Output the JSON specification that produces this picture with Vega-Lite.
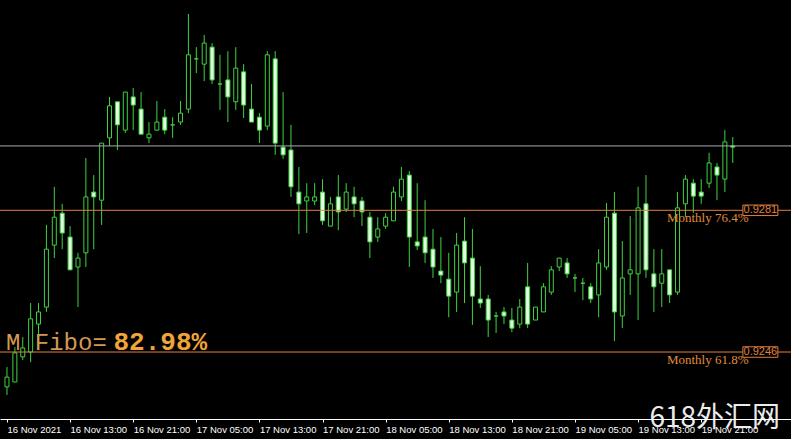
{
  "$schema": "https://vega.github.io/schema/vega-lite/v6.json",
  "width": 791,
  "height": 419,
  "autosize": "none",
  "padding": {"left": 0, "top": 0, "right": 0, "bottom": 20},
  "background": "black",
  "config": {"view": {"stroke": null}, "axisY": {"disable": true}},
  "datasets": {
    "candles": [
      {"t":"2021-11-16T05:00","o":0.92374,"h":0.92423,"l":0.92354,"c":0.92398},
      {"t":"2021-11-16T06:00","o":0.92386,"h":0.92472,"l":0.92386,"c":0.92458},
      {"t":"2021-11-16T07:00","o":0.92448,"h":0.92497,"l":0.92440,"c":0.92470},
      {"t":"2021-11-16T08:00","o":0.92460,"h":0.92581,"l":0.92435,"c":0.92542},
      {"t":"2021-11-16T09:00","o":0.92529,"h":0.92581,"l":0.92490,"c":0.92559},
      {"t":"2021-11-16T10:00","o":0.92571,"h":0.92774,"l":0.92559,"c":0.92714},
      {"t":"2021-11-16T11:00","o":0.92724,"h":0.92868,"l":0.92692,"c":0.92793},
      {"t":"2021-11-16T12:00","o":0.92803,"h":0.92826,"l":0.92714,"c":0.92754},
      {"t":"2021-11-16T13:00","o":0.92744,"h":0.92771,"l":0.92663,"c":0.92663},
      {"t":"2021-11-16T14:00","o":0.92670,"h":0.92705,"l":0.92571,"c":0.92692},
      {"t":"2021-11-16T15:00","o":0.92705,"h":0.92939,"l":0.92670,"c":0.92843},
      {"t":"2021-11-16T16:00","o":0.92855,"h":0.92897,"l":0.92714,"c":0.92843},
      {"t":"2021-11-16T17:00","o":0.92835,"h":0.92976,"l":0.92774,"c":0.92976},
      {"t":"2021-11-16T18:00","o":0.92989,"h":0.93090,"l":0.92969,"c":0.93068},
      {"t":"2021-11-16T19:00","o":0.93078,"h":0.93078,"l":0.92959,"c":0.93021},
      {"t":"2021-11-16T20:00","o":0.93008,"h":0.93102,"l":0.93001,"c":0.93102},
      {"t":"2021-11-16T21:00","o":0.93090,"h":0.93112,"l":0.93008,"c":0.93070},
      {"t":"2021-11-16T22:00","o":0.93060,"h":0.93102,"l":0.92998,"c":0.92998},
      {"t":"2021-11-16T23:00","o":0.92989,"h":0.93028,"l":0.92976,"c":0.92998},
      {"t":"2021-11-17T00:00","o":0.93008,"h":0.93080,"l":0.93008,"c":0.93028},
      {"t":"2021-11-17T01:00","o":0.93040,"h":0.93060,"l":0.92998,"c":0.93008},
      {"t":"2021-11-17T02:00","o":0.93021,"h":0.93040,"l":0.92989,"c":0.93021},
      {"t":"2021-11-17T03:00","o":0.93028,"h":0.93080,"l":0.93021,"c":0.93050},
      {"t":"2021-11-17T04:00","o":0.93060,"h":0.93295,"l":0.93050,"c":0.93194},
      {"t":"2021-11-17T05:00","o":0.93184,"h":0.93213,"l":0.93149,"c":0.93184},
      {"t":"2021-11-17T06:00","o":0.93171,"h":0.93243,"l":0.93129,"c":0.93223},
      {"t":"2021-11-17T07:00","o":0.93213,"h":0.93223,"l":0.93122,"c":0.93132},
      {"t":"2021-11-17T08:00","o":0.93122,"h":0.93194,"l":0.93058,"c":0.93122},
      {"t":"2021-11-17T09:00","o":0.93132,"h":0.93203,"l":0.93028,"c":0.93090},
      {"t":"2021-11-17T10:00","o":0.93078,"h":0.93213,"l":0.93058,"c":0.93161},
      {"t":"2021-11-17T11:00","o":0.93152,"h":0.93171,"l":0.93038,"c":0.93070},
      {"t":"2021-11-17T12:00","o":0.93060,"h":0.93122,"l":0.93028,"c":0.93028},
      {"t":"2021-11-17T13:00","o":0.93040,"h":0.93050,"l":0.92976,"c":0.93008},
      {"t":"2021-11-17T14:00","o":0.93018,"h":0.93203,"l":0.93008,"c":0.93194},
      {"t":"2021-11-17T15:00","o":0.93184,"h":0.93203,"l":0.92947,"c":0.92976},
      {"t":"2021-11-17T16:00","o":0.92966,"h":0.93102,"l":0.92937,"c":0.92947},
      {"t":"2021-11-17T17:00","o":0.92959,"h":0.93021,"l":0.92843,"c":0.92868},
      {"t":"2021-11-17T18:00","o":0.92855,"h":0.92917,"l":0.92751,"c":0.92826},
      {"t":"2021-11-17T19:00","o":0.92833,"h":0.92877,"l":0.92754,"c":0.92843},
      {"t":"2021-11-17T20:00","o":0.92833,"h":0.92877,"l":0.92823,"c":0.92843},
      {"t":"2021-11-17T21:00","o":0.92855,"h":0.92887,"l":0.92774,"c":0.92784},
      {"t":"2021-11-17T22:00","o":0.92771,"h":0.92843,"l":0.92771,"c":0.92826},
      {"t":"2021-11-17T23:00","o":0.92843,"h":0.92897,"l":0.92761,"c":0.92806},
      {"t":"2021-11-18T00:00","o":0.92813,"h":0.92877,"l":0.92806,"c":0.92855},
      {"t":"2021-11-18T01:00","o":0.92843,"h":0.92868,"l":0.92793,"c":0.92826},
      {"t":"2021-11-18T02:00","o":0.92833,"h":0.92843,"l":0.92771,"c":0.92806},
      {"t":"2021-11-18T03:00","o":0.92793,"h":0.92806,"l":0.92692,"c":0.92732},
      {"t":"2021-11-18T04:00","o":0.92744,"h":0.92793,"l":0.92732,"c":0.92764},
      {"t":"2021-11-18T05:00","o":0.92771,"h":0.92803,"l":0.92764,"c":0.92793},
      {"t":"2021-11-18T06:00","o":0.92784,"h":0.92868,"l":0.92784,"c":0.92855},
      {"t":"2021-11-18T07:00","o":0.92843,"h":0.92917,"l":0.92833,"c":0.92887},
      {"t":"2021-11-18T08:00","o":0.92897,"h":0.92907,"l":0.92670,"c":0.92744},
      {"t":"2021-11-18T09:00","o":0.92732,"h":0.92877,"l":0.92712,"c":0.92722},
      {"t":"2021-11-18T10:00","o":0.92744,"h":0.92835,"l":0.92680,"c":0.92705},
      {"t":"2021-11-18T11:00","o":0.92714,"h":0.92764,"l":0.92643,"c":0.92670},
      {"t":"2021-11-18T12:00","o":0.92660,"h":0.92744,"l":0.92630,"c":0.92650},
      {"t":"2021-11-18T13:00","o":0.92640,"h":0.92705,"l":0.92546,"c":0.92598},
      {"t":"2021-11-18T14:00","o":0.92608,"h":0.92754,"l":0.92559,"c":0.92724},
      {"t":"2021-11-18T15:00","o":0.92734,"h":0.92793,"l":0.92581,"c":0.92680},
      {"t":"2021-11-18T16:00","o":0.92692,"h":0.92764,"l":0.92527,"c":0.92598},
      {"t":"2021-11-18T17:00","o":0.92591,"h":0.92672,"l":0.92569,"c":0.92581},
      {"t":"2021-11-18T18:00","o":0.92591,"h":0.92601,"l":0.92497,"c":0.92539},
      {"t":"2021-11-18T19:00","o":0.92549,"h":0.92559,"l":0.92507,"c":0.92549},
      {"t":"2021-11-18T20:00","o":0.92559,"h":0.92571,"l":0.92529,"c":0.92549},
      {"t":"2021-11-18T21:00","o":0.92539,"h":0.92569,"l":0.92509,"c":0.92519},
      {"t":"2021-11-18T22:00","o":0.92529,"h":0.92591,"l":0.92519,"c":0.92571},
      {"t":"2021-11-18T23:00","o":0.92621,"h":0.92680,"l":0.92519,"c":0.92529},
      {"t":"2021-11-19T00:00","o":0.92539,"h":0.92571,"l":0.92539,"c":0.92571},
      {"t":"2021-11-19T01:00","o":0.92559,"h":0.92630,"l":0.92559,"c":0.92621},
      {"t":"2021-11-19T02:00","o":0.92608,"h":0.92672,"l":0.92601,"c":0.92663},
      {"t":"2021-11-19T03:00","o":0.92670,"h":0.92692,"l":0.92660,"c":0.92692},
      {"t":"2021-11-19T04:00","o":0.92680,"h":0.92692,"l":0.92643,"c":0.92653},
      {"t":"2021-11-19T05:00","o":0.92643,"h":0.92653,"l":0.92608,"c":0.92643},
      {"t":"2021-11-19T06:00","o":0.92630,"h":0.92643,"l":0.92588,"c":0.92630},
      {"t":"2021-11-19T07:00","o":0.92621,"h":0.92630,"l":0.92581,"c":0.92591},
      {"t":"2021-11-19T08:00","o":0.92601,"h":0.92714,"l":0.92546,"c":0.92680},
      {"t":"2021-11-19T09:00","o":0.92670,"h":0.92828,"l":0.92663,"c":0.92793},
      {"t":"2021-11-19T10:00","o":0.92803,"h":0.92855,"l":0.92487,"c":0.92559},
      {"t":"2021-11-19T11:00","o":0.92549,"h":0.92734,"l":0.92519,"c":0.92643},
      {"t":"2021-11-19T12:00","o":0.92653,"h":0.92796,"l":0.92601,"c":0.92663},
      {"t":"2021-11-19T13:00","o":0.92653,"h":0.92868,"l":0.92539,"c":0.92816},
      {"t":"2021-11-19T14:00","o":0.92826,"h":0.92897,"l":0.92643,"c":0.92663},
      {"t":"2021-11-19T15:00","o":0.92653,"h":0.92714,"l":0.92559,"c":0.92621},
      {"t":"2021-11-19T16:00","o":0.92630,"h":0.92714,"l":0.92571,"c":0.92653},
      {"t":"2021-11-19T17:00","o":0.92663,"h":0.92663,"l":0.92581,"c":0.92601},
      {"t":"2021-11-19T18:00","o":0.92608,"h":0.92855,"l":0.92601,"c":0.92816},
      {"t":"2021-11-19T19:00","o":0.92826,"h":0.92897,"l":0.92793,"c":0.92887},
      {"t":"2021-11-19T20:00","o":0.92877,"h":0.92887,"l":0.92803,"c":0.92845},
      {"t":"2021-11-19T21:00","o":0.92855,"h":0.92887,"l":0.92826,"c":0.92845},
      {"t":"2021-11-19T22:00","o":0.92877,"h":0.92952,"l":0.92865,"c":0.92927},
      {"t":"2021-11-19T23:00","o":0.92917,"h":0.92927,"l":0.92835,"c":0.92897},
      {"t":"2021-11-20T00:00","o":0.92887,"h":0.93008,"l":0.92855,"c":0.92979},
      {"t":"2021-11-20T01:00","o":0.92969,"h":0.92991,"l":0.92927,"c":0.92966}
    ],
    "levels": [
      {"price": 0.9281, "label": "Monthly 76.4%", "tag": "0.9281"},
      {"price": 0.9246, "label": "Monthly 61.8%", "tag": "0.9246"}
    ],
    "bid": [{"price": 0.92969}],
    "fibo": [{"price": 0.9246, "name": "M Fibo=", "value": "82.98%"}],
    "mark": [{"wm": "618外汇网", "price": 0.92275}]
  },
  "layer": [
    {
      "data": {"name": "candles"},
      "mark": {"type": "rule", "color": "#3fd23f", "strokeWidth": 1},
      "encoding": {
        "x": {
          "field": "t", "type": "temporal", "title": null,
          "scale": {"domain": [{"year": 2021, "month": 11, "date": 16, "hours": 4, "minutes": 45}, {"year": 2021, "month": 11, "date": 20, "hours": 7, "minutes": 45}]},
          "axis": {
            "values": [
              {"year": 2021, "month": 11, "date": 16, "hours": 5},
              {"year": 2021, "month": 11, "date": 16, "hours": 13},
              {"year": 2021, "month": 11, "date": 16, "hours": 21},
              {"year": 2021, "month": 11, "date": 17, "hours": 5},
              {"year": 2021, "month": 11, "date": 17, "hours": 13},
              {"year": 2021, "month": 11, "date": 17, "hours": 21},
              {"year": 2021, "month": 11, "date": 18, "hours": 5},
              {"year": 2021, "month": 11, "date": 18, "hours": 13},
              {"year": 2021, "month": 11, "date": 18, "hours": 21},
              {"year": 2021, "month": 11, "date": 19, "hours": 5},
              {"year": 2021, "month": 11, "date": 19, "hours": 13},
              {"year": 2021, "month": 11, "date": 19, "hours": 21}
            ],
            "labelExpr": "timeFormat(datum.value, '%d %H') == '16 05' ? '16 Nov 2021' : timeFormat(datum.value, '%d %b %H:%M')",
            "labelAlign": "left",
            "labelColor": "white",
            "labelFont": "Liberation Sans",
            "labelFontSize": 9.5,
            "labelPadding": 2,
            "labelOverlap": false,
            "labelFlush": false,
            "domainColor": "white",
            "tickColor": "white",
            "tickSize": 3,
            "grid": false,
            "title": null
          }
        },
        "y": {"field": "l", "type": "quantitative", "title": null, "axis": null, "scale": {"domain": [0.922946, 0.933294], "zero": false, "nice": false}},
        "y2": {"field": "h"}
      }
    },
    {
      "data": {"name": "candles"},
      "mark": {"type": "bar", "width": 4, "stroke": "#3fd23f", "strokeWidth": 1},
      "encoding": {
        "x": {"field": "t", "type": "temporal", "title": null},
        "y": {"field": "o", "type": "quantitative", "title": null, "axis": null},
        "y2": {"field": "c"},
        "fill": {"condition": {"test": "datum.c < datum.o", "value": "#e4ffe4"}, "value": "black"}
      }
    },
    {
      "data": {"name": "levels"},
      "mark": {"type": "rule", "color": "#e0803c", "strokeWidth": 1},
      "encoding": {
        "y": {"field": "price", "type": "quantitative", "title": null, "axis": null}
      }
    },
    {
      "data": {"name": "bid"},
      "mark": {"type": "rule", "color": "#a8a8b4", "strokeWidth": 1},
      "encoding": {
        "y": {"field": "price", "type": "quantitative", "title": null, "axis": null}
      }
    },
    {
      "data": {"name": "levels"},
      "mark": {"type": "text", "align": "right", "baseline": "top", "dy": 2, "font": "Liberation Serif", "fontSize": 13, "color": "#e08a3c"},
      "encoding": {
        "x": {"datum": {"year": 2021, "month": 11, "date": 20, "hours": 3}, "type": "temporal", "title": null},
        "y": {"field": "price", "type": "quantitative", "title": null, "axis": null},
        "text": {"field": "label"}
      }
    },
    {
      "data": {"name": "levels"},
      "mark": {"type": "point", "shape": "M-1,-0.3H1V0.3H-1Z", "size": 1225, "filled": true, "fill": "black", "stroke": "#e0803c", "strokeWidth": 1, "opacity": 1},
      "encoding": {
        "x": {"datum": {"year": 2021, "month": 11, "date": 20, "hours": 4, "minutes": 30}, "type": "temporal", "title": null},
        "y": {"field": "price", "type": "quantitative", "title": null, "axis": null}
      }
    },
    {
      "data": {"name": "levels"},
      "mark": {"type": "text", "align": "center", "baseline": "middle", "font": "Liberation Sans", "fontSize": 11, "color": "#e0803c"},
      "encoding": {
        "x": {"datum": {"year": 2021, "month": 11, "date": 20, "hours": 4, "minutes": 30}, "type": "temporal", "title": null},
        "y": {"field": "price", "type": "quantitative", "title": null, "axis": null},
        "text": {"field": "tag"}
      }
    },
    {
      "data": {"name": "fibo"},
      "mark": {"type": "text", "align": "left", "baseline": "alphabetic", "dy": -2, "dx": 1, "font": "Liberation Mono", "fontSize": 24, "color": "#d29a52"},
      "encoding": {
        "x": {"datum": {"year": 2021, "month": 11, "date": 16, "hours": 4, "minutes": 45}, "type": "temporal", "title": null},
        "y": {"field": "price", "type": "quantitative", "title": null, "axis": null},
        "text": {"field": "name"}
      }
    },
    {
      "data": {"name": "fibo"},
      "mark": {"type": "text", "align": "left", "baseline": "alphabetic", "dy": -2, "font": "Liberation Mono", "fontSize": 26, "fontWeight": "bold", "color": "#f0a43a"},
      "encoding": {
        "x": {"datum": {"year": 2021, "month": 11, "date": 16, "hours": 18, "minutes": 30}, "type": "temporal", "title": null},
        "y": {"field": "price", "type": "quantitative", "title": null, "axis": null},
        "text": {"field": "value"}
      }
    },
    {
      "data": {"name": "mark"},
      "mark": {"type": "text", "align": "right", "baseline": "alphabetic", "font": "Noto Sans CJK SC", "fontSize": 28, "fontWeight": "normal", "color": "white", "opacity": 0.92},
      "encoding": {
        "x": {"datum": {"year": 2021, "month": 11, "date": 20, "hours": 7}, "type": "temporal", "title": null},
        "y": {"field": "price", "type": "quantitative", "title": null, "axis": null},
        "text": {"field": "wm"}
      }
    }
  ]
}
